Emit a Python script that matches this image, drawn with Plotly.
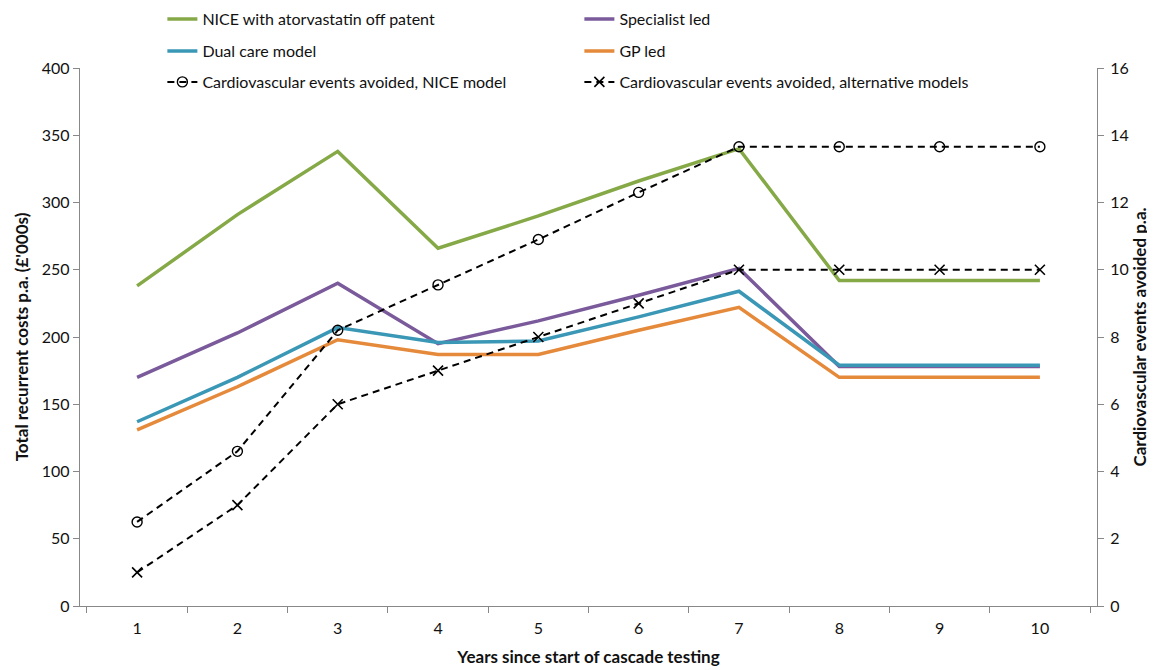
import plotly.graph_objects as go

years = ["1", "2", "3", "4", "5", "6", "7", "8", "9", "10"]
nice_cost = [238, 291, 338, 266, 290, 316, 340, 242, 242, 242]
specialist_cost = [170, 203, 240, 195, 212, 231, 251, 178, 178, 178]
dual_cost = [137, 170, 207, 196, 197, 215, 234, 179, 179, 179]
gp_cost = [131, 163, 198, 187, 187, 205, 222, 170, 170, 170]
events_nice = [2.5, 4.6, 8.2, 9.55, 10.9, 12.3, 13.66, 13.66, 13.66, 13.66]
events_alt = [1, 3, 6, 7, 8, 9, 10, 10, 10, 10]

FONT = "Lato"
fig = go.Figure()

def cost_line(name, y, color, legend):
    fig.add_trace(go.Scatter(x=years, y=y, name=name, mode="lines",
                             line=dict(color=color, width=3.5), legend=legend))

cost_line("NICE with atorvastatin off patent", nice_cost, "#86a947", "legend")
cost_line("Specialist led", specialist_cost, "#7a5a9a", "legend")
cost_line("Dual care model", dual_cost, "#3a97b5", "legend2")
cost_line("GP led", gp_cost, "#e5893a", "legend2")

fig.add_trace(go.Scatter(x=years, y=events_nice, name="Cardiovascular events avoided, NICE model",
                         mode="lines+markers", yaxis="y2", legend="legend3",
                         line=dict(color="black", width=2, dash="7px,5px"),
                         marker=dict(symbol="circle-open", size=10, color="black",
                                     line=dict(width=1.4, color="black"))))
fig.add_trace(go.Scatter(x=years, y=events_alt, name="Cardiovascular events avoided, alternative models",
                         mode="lines+markers", yaxis="y2", legend="legend3",
                         line=dict(color="black", width=2, dash="7px,5px"),
                         marker=dict(symbol="x-thin-open", size=10, color="black",
                                     line=dict(width=1.6, color="black"))))

axis_color = "#888888"
# page body has an 8px offset; compensate in margins
OFF = 8
TOP, BOTTOM = 68, 606
H = BOTTOM - TOP
leg_common = dict(orientation="h", xanchor="left", x=0.081, yanchor="middle",
                  entrywidth=372, entrywidthmode="pixels", bgcolor="rgba(0,0,0,0)",
                  font=dict(family=FONT, size=16, color="#111111"), tracegroupgap=0)

fig.update_layout(
    width=1155, height=670,
    margin=dict(l=80 - OFF, r=66, t=TOP - OFF, b=670 - BOTTOM + OFF, autoexpand=False),
    paper_bgcolor="white", plot_bgcolor="white",
    font=dict(family=FONT, size=16, color="#111111"),
    legend=dict(leg_common, y=(BOTTOM - 19) / H),
    legend2=dict(leg_common, y=(BOTTOM - 51) / H),
    legend3=dict(leg_common, y=(BOTTOM - 82) / H),
    xaxis=dict(type="category", tickson="boundaries", ticks="outside", ticklen=6,
               tickcolor=axis_color, showline=True, linecolor=axis_color, linewidth=1.3,
               showgrid=False, mirror=False, ticklabelstandoff=8,
               tickfont=dict(family=FONT, size=16),
               title=dict(text="<b>Years since start of cascade testing</b>",
                          font=dict(family=FONT, size=17), standoff=14)),
    yaxis=dict(range=[0, 400], dtick=50, ticks="outside", ticklen=6, tickcolor=axis_color,
               showline=True, linecolor=axis_color, linewidth=1.3, showgrid=False,
               zeroline=False, tickfont=dict(family=FONT, size=16),
               title=dict(text="<b>Total recurrent costs p.a. (£'000s)</b>",
                          font=dict(family=FONT, size=17), standoff=8)),
    yaxis2=dict(range=[0, 16], dtick=2, overlaying="y", side="right", ticks="outside",
                ticklen=6, tickcolor=axis_color, showline=True, linecolor=axis_color,
                linewidth=1.3, showgrid=False, zeroline=False, ticklabelstandoff=3,
                tickfont=dict(family=FONT, size=16),
                title=dict(text="<b>Cardiovascular events avoided p.a.</b>",
                           font=dict(family=FONT, size=17), standoff=4)),
)

fig.write_html("out.html")
